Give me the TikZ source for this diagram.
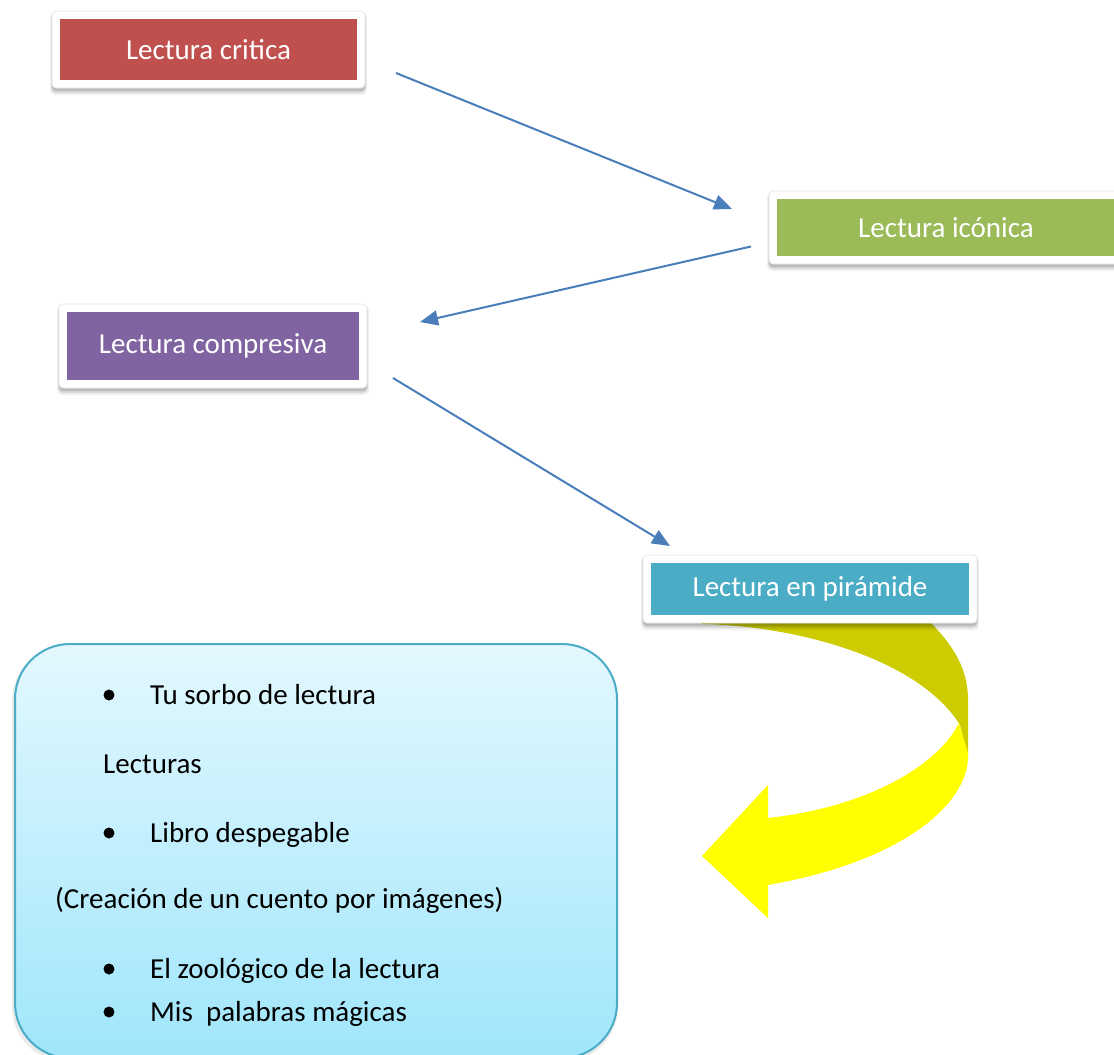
\documentclass[tikz,border=0pt]{standalone}
\usepackage{fontspec}
\setmainfont{Carlito}
\usetikzlibrary{arrows.meta}
\definecolor{critred}{HTML}{C0504D}
\definecolor{icogreen}{HTML}{9BBB59}
\definecolor{compurple}{HTML}{8064A2}
\definecolor{piracyan}{HTML}{4BACC6}
\definecolor{arrowblue}{HTML}{4A7EBB}
\definecolor{ribdark}{HTML}{CCCC00}
\definecolor{ribyellow}{HTML}{FFFF00}
\definecolor{boxtop}{HTML}{E3F8FE}
\definecolor{boxbottom}{HTML}{A0E6FB}
\definecolor{boxborder}{HTML}{4BACC6}
% white frame with soft shadow: centre x, centre y, inner width, inner height
\newcommand{\myshadowframe}[4]{%
  \pgfmathsetmacro{\fxa}{#1-#3/2-8}\pgfmathsetmacro{\fxb}{#1+#3/2+8}%
  \pgfmathsetmacro{\fya}{#2-#4/2-8}\pgfmathsetmacro{\fyb}{#2+#4/2+8}%
  \fill[black,opacity=0.06,rounded corners=5] (\fxa-2,\fya+1) rectangle (\fxb+2,\fyb+7);
  \fill[black,opacity=0.10,rounded corners=5] (\fxa-1,\fya+2) rectangle (\fxb+1,\fyb+5);
  \fill[black,opacity=0.14,rounded corners=4] (\fxa,\fya+2) rectangle (\fxb,\fyb+3);
  \fill[white,rounded corners=4] (\fxa,\fya) rectangle (\fxb,\fyb);
  \draw[black!10,rounded corners=4,line width=0.7] (\fxa,\fya) rectangle (\fxb,\fyb);
}
\begin{document}
\begin{tikzpicture}[x=1pt,y=-1pt,
  lbox/.style={rectangle, inner sep=0pt, text=white, font=\fontsize{29}{35}\selectfont},
  conn/.style={draw=arrowblue, line width=2pt, -{Triangle[length=18pt,width=15pt]}},
  txt/.style={anchor=base west, inner sep=0pt, text=black, font=\fontsize{29}{35}\selectfont},
  bul/.style={circle, fill=black, inner sep=0pt, minimum size=11}
]
\useasboundingbox (0,0) rectangle (1114,1055);

% boxes
\myshadowframe{208.5}{49.5}{297}{61}
\node[lbox, fill=critred, minimum width=297, minimum height=61] (crit) at (208.5,49.5) {Lectura critica};
\myshadowframe{946}{227.5}{338}{57}
\node[lbox, fill=icogreen, minimum width=338, minimum height=57] (icon) at (946,227.5) {Lectura icónica};
\myshadowframe{213}{346}{292}{68}
\node[lbox, fill=compurple, minimum width=292, minimum height=68] (comp) at (213,346) {Lectura compresiva};

% connectors
\coordinate (a1s) at (396,73);
\coordinate (a1e) at (732,209);
\coordinate (a2s) at (751,246.5);
\coordinate (a2e) at (420,322);
\coordinate (a3s) at (393,378);
\coordinate (a3e) at (670,546);
\draw[conn] (a1s) -- (a1e);
\draw[conn] (a2s) -- (a2e);
\draw[conn] (a3s) -- (a3e);

% curved ribbon arrow
\fill[ribdark] (702,620) -- (702,624) .. controls (800,626) and (920,660) .. (960,725)
  -- (968,757) -- (968,700) .. controls (968,670) and (955,648) .. (932,624) -- (928,620) -- cycle;
\fill[ribyellow] (959,723) -- (968,753) -- (968,757) .. controls (968,800) and (910,860) .. (768,885)
  -- (768,918) -- (702,856) -- (768,785) -- (768,818)
  .. controls (860,808) and (935,770) .. (959,723) -- cycle;

\myshadowframe{810}{589}{318}{52}
\node[lbox, fill=piracyan, minimum width=318, minimum height=52] (pira) at (810,589) {Lectura en pirámide};

% rounded info box
\fill[black,opacity=0.08,rounded corners=55] (12,646) rectangle (618,1062);
\node[draw=boxborder, line width=2pt, rounded corners=55pt, top color=boxtop, bottom color=boxbottom,
  minimum width=602, minimum height=414, anchor=north west, inner sep=0pt] (info) at (14,643) {};

\node[bul] (b1) at (109,695) {};
\node[txt] (t1) at (150,704) {Tu sorbo de lectura};
\node[txt] (t2) at (103,773) {Lecturas};
\node[bul] (b3) at (109,833) {};
\node[txt] (t3) at (150,842) {Libro despegable};
\node[txt] (t4) at (55,908) {(Creación de un cuento por imágenes)};
\node[bul] (b5) at (109,969) {};
\node[txt] (t5) at (150,978) {El zoológico de la lectura};
\node[bul] (b6) at (109,1012) {};
\node[txt] (t6) at (150,1021) {Mis\ \ palabras mágicas};
\end{tikzpicture}
\end{document}
